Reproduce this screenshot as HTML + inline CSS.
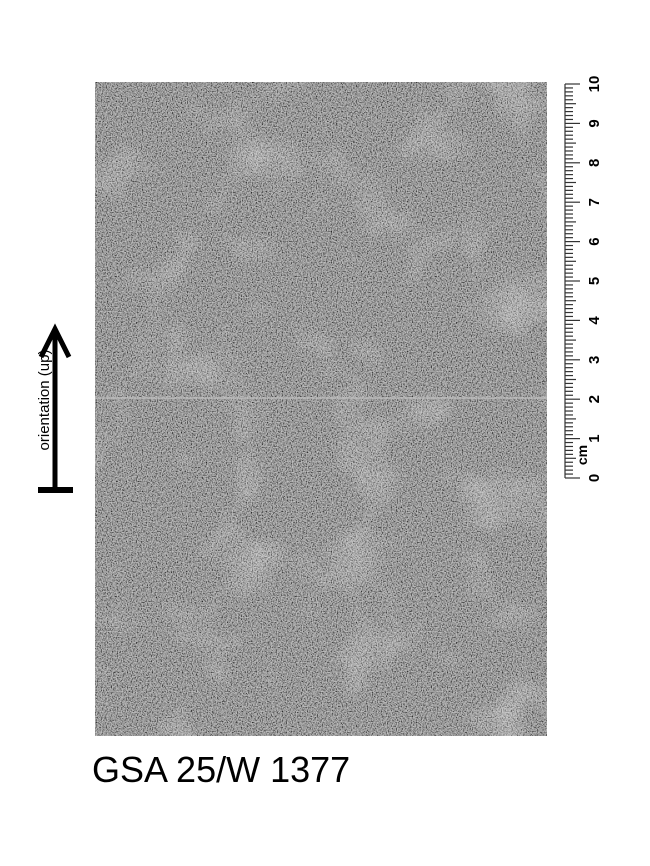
<!DOCTYPE html>
<html><head><meta charset="utf-8"><style>
html,body{margin:0;padding:0;background:#fff;width:650px;height:866px;overflow:hidden}
svg{display:block}
</style></head><body>
<svg width="650" height="866" viewBox="0 0 650 866">
<defs>
<filter id="grain" x="0" y="0" width="100%" height="100%">
<feTurbulence type="fractalNoise" baseFrequency="0.8" numOctaves="2" seed="3" result="n"/>
<feColorMatrix in="n" type="matrix" values="2.2 0 0 0 -0.6  2.2 0 0 0 -0.6  2.2 0 0 0 -0.6  0 0 0 0 0.6"/>
</filter>
<filter id="blotch" x="0" y="0" width="100%" height="100%">
<feTurbulence type="fractalNoise" baseFrequency="0.015" numOctaves="3" seed="8"/>
<feColorMatrix type="matrix" values="0 0 0 0 1  0 0 0 0 1  0 0 0 0 1  1.6 0 0 0 -0.85"/>
</filter>
</defs>
<g>
<rect x="95" y="82" width="452" height="654" fill="#6a6a6a"/>
<rect x="95" y="82" width="452" height="654" filter="url(#grain)"/>
<rect x="95" y="82" width="452" height="654" filter="url(#blotch)" opacity="0.45"/>
<rect x="95" y="397" width="452" height="2" fill="#bdbdbd" opacity="0.7"/>
</g>
<g stroke="#000" fill="none">
<line x1="55" y1="490" x2="55" y2="330" stroke-width="5"/>
<polyline points="41,357 55,329 69,357" stroke-width="5" stroke-linejoin="miter"/>
<line x1="38" y1="490" x2="73" y2="490" stroke-width="6"/>
</g>
<text x="0" y="0" transform="translate(49,400) rotate(-90)" text-anchor="middle" font-family="Liberation Sans, sans-serif" font-size="15" fill="#000">orientation (up)</text>
<g id="ruler" stroke="#333" stroke-width="1.2"></g>
<text x="92" y="782" font-family="Liberation Sans, sans-serif" font-size="36" fill="#000">GSA 25/W 1377</text>
</svg>
<script>
const cmLabels=[0,1,2,3,4,5,6,7,8,9,10];
const r=document.getElementById('ruler');
const ns='http://www.w3.org/2000/svg';
const y0=478,pcm=39.4,x0=565;
const base=document.createElementNS(ns,'line');
base.setAttribute('x1',x0);base.setAttribute('x2',x0);base.setAttribute('y1',y0);base.setAttribute('y2',y0-10*pcm);


r.appendChild(base);
for(let i=0;i<=100;i++){
 const y=y0-i*pcm/10;
 const len=i%10===0?15:(i%5===0?11:8);
 const t=document.createElementNS(ns,'line');
 t.setAttribute('x1',x0);t.setAttribute('x2',x0+len);t.setAttribute('y1',y);t.setAttribute('y2',y);
 
 
 r.appendChild(t);
}
cmLabels.forEach(v=>{
 const y=y0-v*pcm;
 const tx=document.createElementNS(ns,'text');
 tx.setAttribute('transform','translate(599,'+y+') rotate(-90)');
 tx.setAttribute('text-anchor','middle');
 tx.setAttribute('font-family','Liberation Sans, sans-serif');
 tx.setAttribute('font-size','15');
 tx.setAttribute('font-weight','bold');
 tx.setAttribute('stroke','none');tx.setAttribute('fill','#000');
 tx.textContent=v;
 
 
 r.appendChild(tx);
});
const cm=document.createElementNS(ns,'text');
cm.setAttribute('transform','translate(587,455) rotate(-90)');
cm.setAttribute('text-anchor','middle');
cm.setAttribute('font-family','Liberation Sans, sans-serif');
cm.setAttribute('font-size','14');
cm.setAttribute('font-weight','bold');
cm.setAttribute('stroke','none');cm.setAttribute('fill','#000');
cm.textContent='cm';


r.appendChild(cm);
</script>
</body></html>
